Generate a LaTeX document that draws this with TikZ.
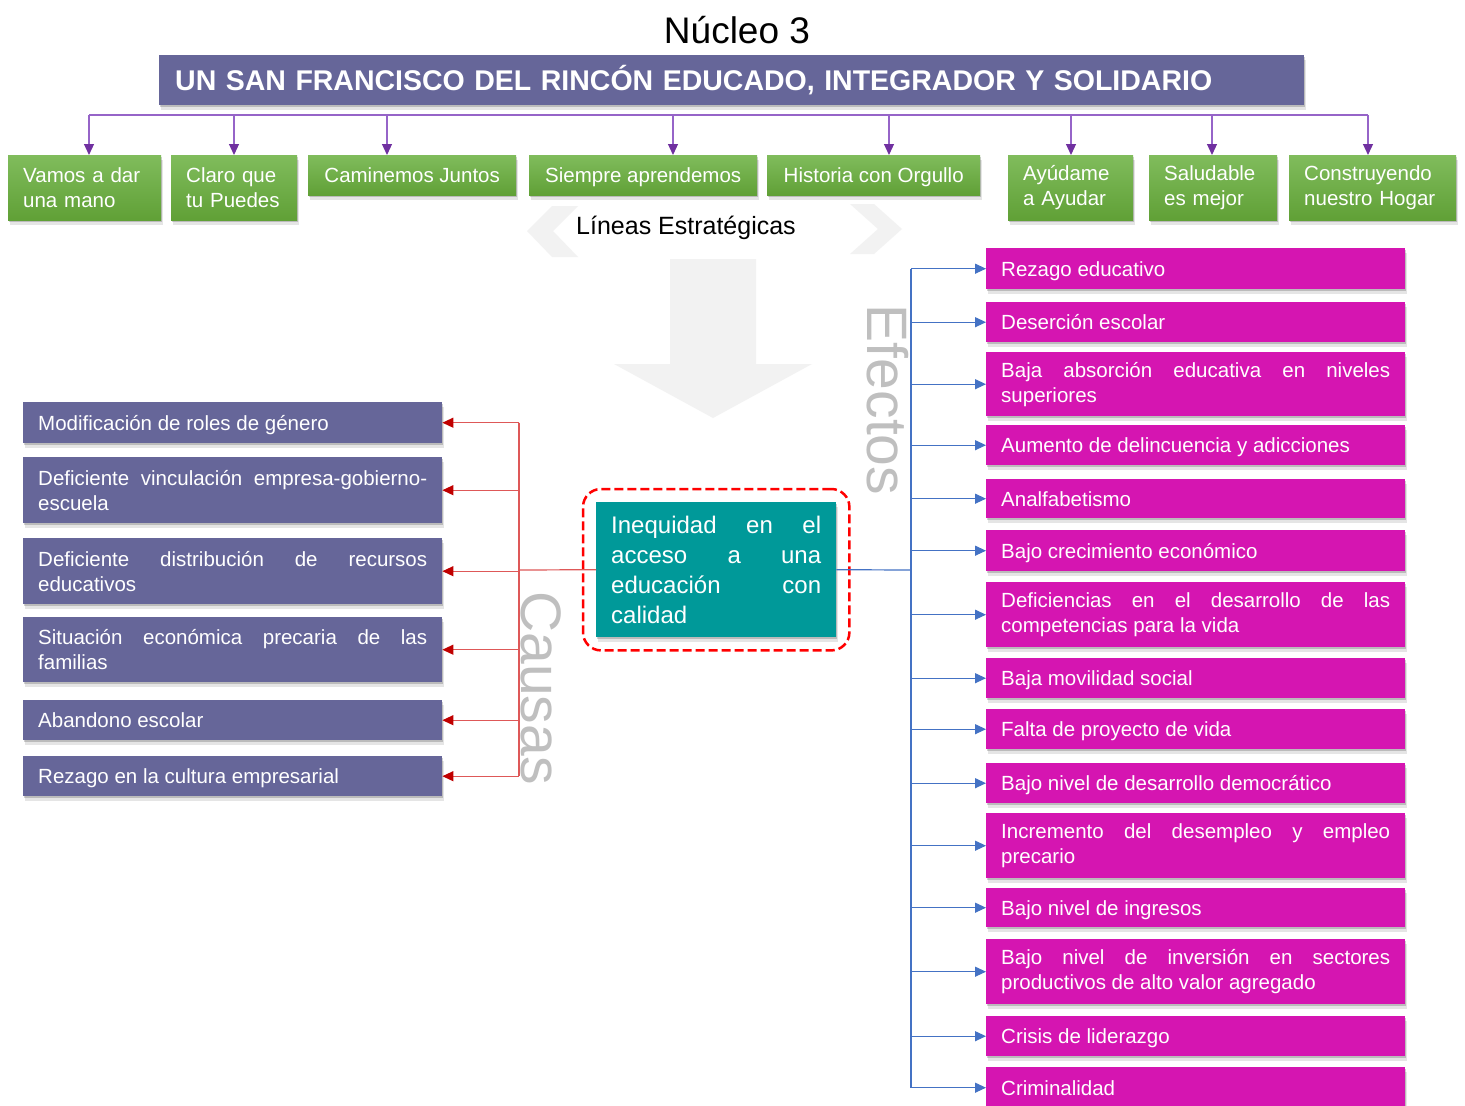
\documentclass[tikz,border=0pt]{standalone}
\usepackage{fontspec}
\setmainfont{Liberation Sans}
\usetikzlibrary{arrows.meta,shadows,fit,calc}
\definecolor{hdr}{RGB}{102,102,153}
\definecolor{grT}{RGB}{128,188,92}
\definecolor{grB}{RGB}{96,160,54}
\definecolor{teal1}{RGB}{0,153,153}
\definecolor{mag}{RGB}{213,21,177}
\definecolor{plin}{RGB}{150,100,200}
\definecolor{parr}{RGB}{112,48,160}
\definecolor{rlin}{RGB}{222,88,88}
\definecolor{rarr}{RGB}{192,0,0}
\definecolor{blin}{RGB}{68,114,196}
\definecolor{lgray}{RGB}{242,242,242}
\definecolor{tgray}{RGB}{191,191,191}
\newcommand\myboxfont{\fontsize{20.5}{25}\selectfont\hyphenpenalty=10000\relax\tolerance=10000\relax}
\newcommand\mycenterfont{\fontsize{24}{30}\selectfont\hyphenpenalty=10000\relax\tolerance=10000\relax}
\tikzset{
  shad/.style={drop shadow={shadow xshift=1pt,shadow yshift=-2pt,opacity=0.18,fill=black},
               drop shadow={shadow xshift=1.5pt,shadow yshift=-4.5pt,opacity=0.10,fill=black}},
  basebox/.style={anchor=north west, inner xsep=15pt, inner ysep=0pt, text=white, font=\myboxfont, shad},
  oneline/.style={text height=17.5pt, text depth=2pt},
  causebox/.style={basebox, fill=hdr, text width=389pt, align=justify},
  effectbox/.style={basebox, fill=mag, text width=389pt, align=justify},
  greenbox/.style={basebox, top color=grT, bottom color=grB, draw=none},
  pl/.style={draw=plin, line width=1.2pt},
  rl/.style={draw=rlin, line width=1.2pt},
  bl/.style={draw=blin, line width=1.2pt},
  parrow/.style={-{Triangle[length=11pt,width=10pt,color=parr]}},
  rarrow/.style={-{Triangle[length=11pt,width=10pt,color=rarr]}},
  barrow/.style={-{Triangle[length=11pt,width=10pt,color=blin]}},
  sidelabel/.style={rotate=-90, text=tgray, font=\fontsize{57}{60}\selectfont, inner sep=0pt},
}
\begin{document}
\begin{tikzpicture}[x=1pt,y=-1pt]
\useasboundingbox (0,0) rectangle (1465,1106);
\fill[white] (0,0) rectangle (1465,1106);

% light gray background shapes
\fill[lgray] (527,231) -- (552,206) -- (578,206) -- (553,231) -- (578,257) -- (552,257) -- cycle;
\fill[lgray] (850,204) -- (874,204) -- (902,229) -- (874,254) -- (850,254) -- (878,229) -- cycle;
\fill[lgray] (670,259) -- (756,259) -- (756,364) -- (812,364) -- (713,418) -- (614,364) -- (670,364) -- cycle;

% title and header
\node (title) at (737,30) {\fontsize{37}{40}\selectfont Núcleo 3};
\node[anchor=north west, fill=hdr, text=white, shad, inner xsep=16pt, inner ysep=0pt,
      text width=1113pt, minimum height=50pt, align=left,
      font=\fontsize{28.5}{30}\selectfont\bfseries] (header) at (159,55)
      {UN SAN FRANCISCO DEL RINCÓN EDUCADO, INTEGRADOR Y SOLIDARIO};

% green boxes
\node[greenbox, text width=123pt, align=left, minimum height=65pt] (g1) at (8,155) {Vamos a dar\\una mano};
\node[greenbox, text width=96pt, align=left, minimum height=65pt] (g2) at (171,155) {Claro que\\tu Puedes};
\node[greenbox, oneline, minimum width=208pt, minimum height=40pt] (g3) at (308,155) {Caminemos Juntos};
\node[greenbox, oneline, minimum width=228pt, minimum height=40pt] (g4) at (529,155) {Siempre aprendemos};
\node[greenbox, oneline, minimum width=213pt, minimum height=40pt] (g5) at (767,155) {Historia con Orgullo};
\node[greenbox, text width=95pt, align=left, minimum height=65pt] (g6) at (1008,155) {Ayúdame\\a Ayudar};
\node[greenbox, text width=98pt, align=left, minimum height=65pt] (g7) at (1149,155) {Saludable\\es mejor};
\node[greenbox, text width=137pt, align=left, minimum height=65pt] (g8) at (1289,155) {Construyendo\\nuestro Hogar};

\node (lineas) at (686,228) {\fontsize{25}{28}\selectfont Líneas Estratégicas};

% side labels
\node[sidelabel] (causas) at (541,688) {Causas};
\node[sidelabel] (efectos) at (888,400) {Efectos};

% central problem
\node[anchor=north west, fill=teal1, text=white, shad, inner xsep=15pt, inner ysep=0pt,
      text width=210pt, minimum height=135pt, align=justify,
      font=\mycenterfont] (center) at (596,502)
      {Inequidad en el\linebreak acceso a una\linebreak educación con\linebreak calidad};
\node[fit=(center), inner sep=13pt, draw=red, dash pattern=on 9pt off 4pt, line width=2.5pt, rounded corners=18pt] (dashframe) {};

% causes
\node[causebox, oneline, minimum height=41pt] (c1) at (23,402) {Modificación de roles de género};
\node[causebox, minimum height=66pt] (c2) at (23,457) {Deficiente vinculación empresa-gobierno-\linebreak escuela};
\node[causebox, minimum height=66pt] (c3) at (23,538) {Deficiente distribución de recursos\linebreak educativos};
\node[causebox, minimum height=65pt] (c4) at (23,617) {Situación económica precaria de las\linebreak familias};
\node[causebox, oneline, minimum height=40pt] (c5) at (23,700) {Abandono escolar};
\node[causebox, oneline, minimum height=40pt] (c6) at (23,756) {Rezago en la cultura empresarial};

% effects
\node[effectbox, oneline, minimum height=41pt] (e1) at (986,248) {Rezago educativo};
\node[effectbox, oneline, minimum height=40pt] (e2) at (986,302) {Deserción escolar};
\node[effectbox, minimum height=64pt] (e3) at (986,352) {Baja absorción educativa en niveles\linebreak superiores};
\node[effectbox, oneline, minimum height=40pt] (e4) at (986,425) {Aumento de delincuencia y adicciones};
\node[effectbox, oneline, minimum height=39pt] (e5) at (986,479) {Analfabetismo};
\node[effectbox, oneline, minimum height=41pt] (e6) at (986,530) {Bajo crecimiento económico};
\node[effectbox, minimum height=65pt] (e7) at (986,582) {Deficiencias en el desarrollo de las\linebreak competencias para la vida};
\node[effectbox, oneline, minimum height=40pt] (e8) at (986,658) {Baja movilidad social};
\node[effectbox, oneline, minimum height=40pt] (e9) at (986,709) {Falta de proyecto de vida};
\node[effectbox, oneline, minimum height=40pt] (e10) at (986,763) {Bajo nivel de desarrollo democrático};
\node[effectbox, minimum height=65pt] (e11) at (986,813) {Incremento del desempleo y empleo\linebreak precario};
\node[effectbox, oneline, minimum height=39pt] (e12) at (986,888) {Bajo nivel de ingresos};
\node[effectbox, minimum height=65pt] (e13) at (986,939) {Bajo nivel de inversión en sectores\linebreak productivos de alto valor agregado};
\node[effectbox, oneline, minimum height=40pt] (e14) at (986,1016) {Crisis de liderazgo};
\node[effectbox, oneline, minimum height=41pt] (e15) at (986,1067) {Criminalidad};

% purple connectors
\coordinate (busL) at (89,115);
\coordinate (busR) at (1368,115);
\draw[pl] (busL) -- (busR);
\foreach \x/\g in {89/g1,234/g2,387/g3,673/g4,889/g5,1071/g6,1212/g7,1368/g8}{
  \coordinate (t\g) at (\x,115);
  \draw[pl,parrow] (t\g) -- (t\g |- \g.north);
}

% red connectors (causes)
\coordinate (rbus) at (519,570);
\draw[rl] (center.west) -- (rbus);
\draw[rl] (rbus |- c1.east) -- (rbus |- c6.east);
\foreach \c in {c1,c2,c3,c4,c5,c6}{
  \draw[rl,rarrow] (rbus |- \c.east) -- (\c.east);
}

% blue connectors (effects)
\coordinate (bbus) at (911,570);
\draw[bl] (center.east) -- (bbus);
\draw[bl] (bbus |- e1.west) -- (bbus |- e15.west);
\foreach \e in {e1,e2,e3,e4,e5,e6,e7,e8,e9,e10,e11,e12,e13,e14,e15}{
  \draw[bl,barrow] (bbus |- \e.west) -- (\e.west);
}
\end{tikzpicture}
\end{document}
